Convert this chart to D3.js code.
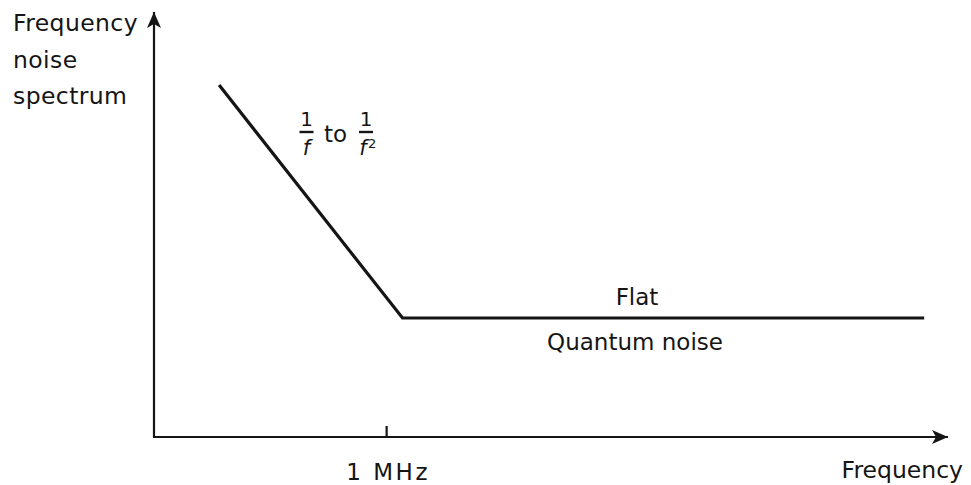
<!DOCTYPE html>
<html>
<head>
<meta charset="utf-8">
<script src="https://cdn.jsdelivr.net/npm/d3@7"></script>
<style>
  html, body { margin: 0; padding: 0; background: #fff; }
  svg { display: block; font-family: "DejaVu Sans", sans-serif; }
</style>
</head>
<body>
<svg id="chart" width="971" height="485"></svg>
<script>
// Schematic noise spectrum: relative frequency position vs. relative noise level
const frequency = [8.2, 31.3, 97.0];
const noiseLevel = [82.8, 28.0, 28.0];
const tickValues = [29.3];
const tickLabels = ["1 MHz"];
const yTitle = ["Frequency", "noise", "spectrum"];
const xTitle = "Frequency";

const svg = d3.select("#chart");
const x = d3.scaleLinear().domain([0, 100]).range([154, 948]);
const y = d3.scaleLinear().domain([0, 100]).range([437, 12]);
const ink = "#151515";

// Arrowheads for the axes
const defs = svg.append("defs");
defs.append("marker")
  .attr("id", "arrow")
  .attr("viewBox", "0 0 16 14")
  .attr("refX", 16).attr("refY", 7)
  .attr("markerWidth", 16).attr("markerHeight", 14)
  .attr("markerUnits", "userSpaceOnUse")
  .attr("orient", "auto")
  .append("path")
  .attr("d", "M0,0 L16,7 L0,14 L4,7 Z")
  .attr("fill", ink);

// Axes drawn as plain lines ending in arrows
svg.append("line")
  .attr("x1", x(0)).attr("y1", y(0))
  .attr("x2", x(0)).attr("y2", y(100))
  .attr("stroke", ink).attr("stroke-width", 2.2)
  .attr("marker-end", "url(#arrow)");
svg.append("line")
  .attr("x1", x(0) - 1).attr("y1", y(0))
  .attr("x2", x(100)).attr("y2", y(0))
  .attr("stroke", ink).attr("stroke-width", 2.2)
  .attr("marker-end", "url(#arrow)");

// Frequency tick and its label
const xAxis = d3.axisBottom(x)
  .tickValues(tickValues)
  .tickSize(0)
  .tickFormat((d, i) => tickLabels[i]);
svg.selectAll(".tickmark").data(tickValues).join("line")
  .attr("class", "tickmark")
  .attr("x1", d => x(d)).attr("x2", d => x(d))
  .attr("y1", y(0)).attr("y2", y(0) - 11)
  .attr("stroke", ink).attr("stroke-width", 2.2);
const gx = svg.append("g").attr("transform", `translate(0,${y(0)})`).call(xAxis);
gx.select(".domain").remove();
gx.selectAll("text")
  .attr("y", 0).attr("dy", null)
  .attr("transform", "translate(1,43)")
  .attr("fill", ink)
  .style("letter-spacing", "2.5px")
  .style("font-size", "23px")
  .style("font-family", '"DejaVu Sans", sans-serif');

// Spectrum curve
const pts = frequency.map((f, i) => [f, noiseLevel[i]]);
svg.append("path")
  .datum(pts)
  .attr("d", d3.line().x(d => x(d[0])).y(d => y(d[1])))
  .attr("fill", "none")
  .attr("stroke", ink)
  .attr("stroke-width", 3.2)
  .attr("stroke-linejoin", "miter");

// Axis titles
const yt = svg.append("text")
  .attr("x", 13).attr("y", 31)
  .attr("fill", ink).style("font-size", "23.5px")
  .style("letter-spacing", "0.4px");
yTitle.forEach((t, i) => {
  yt.append("tspan").attr("x", 13).attr("y", 31 + i * 36.5).text(t);
});
svg.append("text")
  .attr("x", 963).attr("y", 478)
  .attr("text-anchor", "end")
  .attr("fill", ink).style("font-size", "23.5px")
  .text(xTitle);

// Region annotations
const flatY = y(noiseLevel[2]);
svg.append("text")
  .attr("x", 637).attr("y", flatY - 13)
  .attr("text-anchor", "middle")
  .attr("fill", ink).style("font-size", "23px")
  .text("Flat");
svg.append("text")
  .attr("x", 635).attr("y", flatY + 32)
  .attr("text-anchor", "middle")
  .attr("fill", ink).style("font-size", "23px")
  .text("Quantum noise");

// "1/f to 1/f²" stacked fractions
const frac = svg.append("g").attr("fill", ink).style("font-size", "20px");
function fraction(cx, den, sup) {
  frac.append("text").attr("x", cx).attr("y", 126).attr("text-anchor", "middle").text("1");
  frac.append("line")
    .attr("x1", cx - 7).attr("x2", cx + 7)
    .attr("y1", 132).attr("y2", 132)
    .attr("stroke", ink).attr("stroke-width", 2.4);
  frac.append("text").attr("x", cx - (sup ? 3 : 0)).attr("y", 155)
    .attr("text-anchor", "middle").style("font-style", "italic")
    .style("font-size", "21px").text(den);
  if (sup) {
    frac.append("text").attr("x", cx + 2).attr("y", 148)
      .style("font-size", "13px").text(sup);
  }
}
fraction(306.5, "f", null);
frac.append("text").attr("x", 324).attr("y", 142).style("font-size", "23px").text("to");
fraction(366, "f", "2");
</script>
</body>
</html>
